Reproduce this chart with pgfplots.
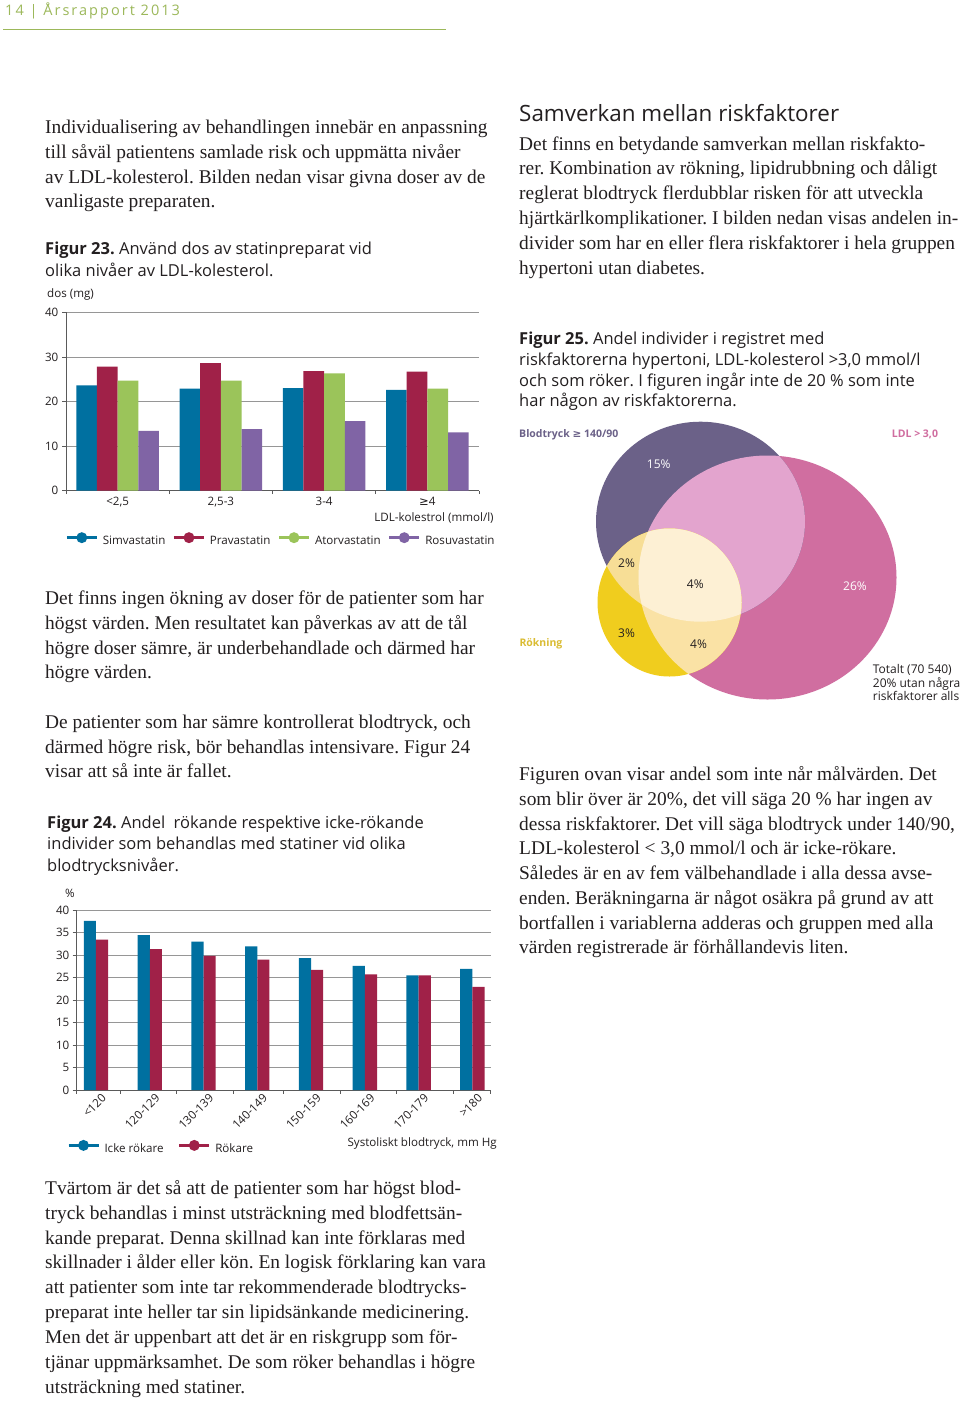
\documentclass[border=0pt]{standalone}
\usepackage{pgfplots}
\usepackage{pgfplotstable}
\pgfplotsset{compat=1.18}
\usepackage{fontspec}
\setmainfont{Liberation Serif}
\newfontfamily\sans{Open Sans}
\newfontfamily\sym{DejaVu Sans}
\newfontfamily\headfont[LetterSpace=14]{Open Sans}

\definecolor{simc}{RGB}{0,112,160}
\definecolor{pravc}{RGB}{160,33,72}
\definecolor{atorc}{RGB}{155,196,90}
\definecolor{rosuc}{RGB}{128,100,165}
\definecolor{gridc}{RGB}{150,150,150}
\definecolor{axisc}{RGB}{90,90,90}
\definecolor{txt}{RGB}{35,31,32}
\definecolor{headc}{RGB}{156,184,90}
\definecolor{vpurple}{RGB}{107,97,136}
\definecolor{vpink}{RGB}{208,110,160}
\definecolor{vlpink}{RGB}{227,164,206}
\definecolor{vyellow}{RGB}{240,205,30}
\definecolor{vlyellow}{RGB}{247,222,150}
\definecolor{vlyellowb}{RGB}{250,226,165}
\definecolor{vcream}{RGB}{253,240,212}
\definecolor{rokc}{RGB}{218,188,50}

\newcommand\bodyfont{\fontsize{19.4}{24}\selectfont}
\newcommand\capfont{\sans\fontsize{16.5}{20}\selectfont}
\newcommand\chartfont{\sans\fontsize{11.6}{13}\selectfont}
\newcommand\vennfont{\sans\fontsize{12}{13.5}\selectfont}
\newcommand\vennbold{\sans\bfseries\fontsize{10.5}{12}\selectfont}

\pgfplotstableread{
x sim prav ator rosu
0 23.6 27.8 24.7 13.4
1 22.9 28.6 24.7 13.8
2 23.0 26.8 26.3 15.6
3 22.6 26.7 22.9 13.1
}\dosdata

\pgfplotstableread{
x icke rok
0 37.6 33.4
1 34.4 31.3
2 33.0 29.8
3 31.9 29.0
4 29.3 26.7
5 27.6 25.7
6 25.5 25.5
7 26.9 22.9
}\rokdata

\pgfplotsset{lgd/.style={legend image code/.code={%
  \draw[#1, line width=3.2pt] (0pt,3.6pt) -- (30pt,3.6pt);
  \fill[#1] (15pt,3.6pt) circle (5.5pt);
  \path (36pt,0pt);}}}

\tikzset{
  body/.style={anchor=base west, inner sep=0pt, font=\bodyfont, text=txt},
  capt/.style={anchor=base west, inner sep=0pt, font=\capfont, text=txt},
}

\begin{document}
\frenchspacing
\begin{tikzpicture}[x=1pt,y=1pt]
\fill[white] (0,0) rectangle (960,-1405);
\path[use as bounding box] (0,0) rectangle (960,-1405);

% header
\node[anchor=base west, inner sep=0pt, font=\headfont\fontsize{14.5}{16}\selectfont, text=headc] at (5,-16) {14 | Årsrapport 2013};
\draw[headc, line width=0.8pt] (3,-29) -- (446,-29);

% left column top
\node[body] at (45,-133.3) {Individualisering av behandlingen innebär en anpassning};
\node[body] at (45,-158.3) {till såväl patientens samlade risk och uppmätta nivåer};
\node[body] at (45,-183.1) {av LDL-kolesterol. Bilden nedan visar givna doser av de};
\node[body] at (45,-207.8) {vanligaste preparaten.};
\node[capt] at (45,-254) {\bfseries Figur 23.\mdseries\ Använd dos av statinpreparat vid};
\node[capt] at (45,-276.7) {olika nivåer av LDL-kolesterol.};

% right column top
\node[anchor=base west, inner sep=0pt, font=\sans\fontsize{22.4}{26}\selectfont, text=txt] at (519,-121) {Samverkan mellan riskfaktorer};
\node[body] at (519,-150) {Det finns en betydande samverkan mellan riskfakto-};
\node[body] at (519,-174.8) {rer. Kombination av rökning, lipidrubbning och dåligt};
\node[body] at (519,-199.6) {reglerat blodtryck flerdubblar risken för att utveckla};
\node[body] at (519,-224.4) {hjärtkärlkomplikationer. I bilden nedan visas andelen in-};
\node[body] at (519,-249.2) {divider som har en eller flera riskfaktorer i hela gruppen};
\node[body] at (519,-274) {hypertoni utan diabetes.};
\node[capt] at (519,-344.3) {\bfseries Figur 25.\mdseries\ Andel individer i registret med};
\node[capt] at (519,-365) {riskfaktorerna hypertoni, LDL-kolesterol >3,0 mmol/l};
\node[capt] at (519,-386) {och som röker. I figuren ingår inte de 20 \% som inte};
\node[capt] at (519,-406.7) {har någon av riskfaktorerna.};

% left middle
\node[body] at (45,-604.3) {Det finns ingen ökning av doser för de patienter som har};
\node[body] at (45,-629.3) {högst värden. Men resultatet kan påverkas av att de tål};
\node[body] at (45,-654) {högre doser sämre, är underbehandlade och därmed har};
\node[body] at (45,-678.7) {högre värden.};
\node[body] at (45,-728.3) {De patienter som har sämre kontrollerat blodtryck, och};
\node[body] at (45,-753) {därmed högre risk, bör behandlas intensivare. Figur 24};
\node[body] at (45,-777.7) {visar att så inte är fallet.};
\node[capt] at (47,-828.3) {\bfseries Figur 24.\mdseries\ Andel\ \ rökande respektive icke-rökande};
\node[capt] at (47,-849.3) {individer som behandlas med statiner vid olika};
\node[capt] at (47,-871) {blodtrycksnivåer.};

% right bottom
\node[body] at (519,-780) {Figuren ovan visar andel som inte når målvärden. Det};
\node[body] at (519,-805) {som blir över är 20\%, det vill säga 20 \% har ingen av};
\node[body] at (519,-830) {dessa riskfaktorer. Det vill säga blodtryck under 140/90,};
\node[body] at (519,-854.5) {LDL-kolesterol < 3,0 mmol/l och är icke-rökare.};
\node[body] at (519,-879) {Således är en av fem välbehandlade i alla dessa avse-};
\node[body] at (519,-904) {enden. Beräkningarna är något osäkra på grund av att};
\node[body] at (519,-929) {bortfallen i variablerna adderas och gruppen med alla};
\node[body] at (519,-953.5) {värden registrerade är förhållandevis liten.};

% bottom left
\node[body] at (45,-1194) {Tvärtom är det så att de patienter som har högst blod-};
\node[body] at (45,-1219) {tryck behandlas i minst utsträckning med blodfettsän-};
\node[body] at (45,-1244) {kande preparat. Denna skillnad kan inte förklaras med};
\node[body] at (45,-1268.7) {skillnader i ålder eller kön. En logisk förklaring kan vara};
\node[body] at (45,-1293.7) {att patienter som inte tar rekommenderade blodtrycks-};
\node[body] at (45,-1318.3) {preparat inte heller tar sin lipidsänkande medicinering.};
\node[body] at (45,-1343.3) {Men det är uppenbart att det är en riskgrupp som för-};
\node[body] at (45,-1368.3) {tjänar uppmärksamhet. De som röker behandlas i högre};
\node[body] at (45,-1393.3) {utsträckning med statiner.};

% ---------------- Figure 23 ----------------
\begin{axis}[
  at={(66pt,-490.7pt)}, anchor=south west,
  scale only axis, width=413pt, height=178.4pt,
  xmin=-0.5, xmax=3.5, ymin=0, ymax=40,
  ybar=0pt, bar width=0.2,
  axis x line*=bottom, axis y line*=left,
  axis line style={axisc, line width=0.8pt, -},
  ytick={0,10,20,30,40},
  ymajorgrids, grid style={gridc, line width=0.7pt},
  xtick={-0.5,0.5,1.5,2.5,3.5}, xticklabel={\relax},
  extra x ticks={0,1,2,3},
  extra x tick labels={{<2,5},{2,5-3},{3-4},{{\sym ≥}4}},
  extra x tick style={major tick length=0pt, xticklabel style={yshift=-6pt}},
  tick style={axisc, line width=0.8pt},
  tick align=outside, major tick length=3.5pt,
  /pgf/number format/assume math mode=true,
  tick label style={font=\chartfont, text=txt},
  yticklabel style={inner sep=0pt, xshift=-4pt},
  xticklabel style={inner sep=0pt},
  xlabel={LDL-kolestrol (mmol/l)},
  xlabel style={at={(axis description cs:1.036,0)}, anchor=base east, yshift=-31pt, inner sep=0pt, font=\chartfont, text=txt},
  ylabel={dos (mg)},
  ylabel style={rotate=-90, at={(axis description cs:-0.046,1.084)}, anchor=base west, inner sep=0pt, font=\chartfont, text=txt},
  legend style={at={(axis description cs:-0.0024,-0.272)}, anchor=west, draw=none, fill=none, inner sep=0pt, font=\chartfont, text=txt, nodes={inner sep=0pt}, /tikz/every even column/.append style={column sep=7pt}},
  legend columns=4,
  clip=false,
]
\addplot[fill=simc, draw=none, lgd=simc] table[x=x,y=sim]{\dosdata};
\addplot[fill=pravc, draw=none, lgd=pravc] table[x=x,y=prav]{\dosdata};
\addplot[fill=atorc, draw=none, lgd=atorc] table[x=x,y=ator]{\dosdata};
\addplot[fill=rosuc, draw=none, lgd=rosuc] table[x=x,y=rosu]{\dosdata};
\legend{Simvastatin, Pravastatin, Atorvastatin, Rosuvastatin}
\end{axis}

% ---------------- Figure 24 ----------------
\begin{axis}[
  at={(76pt,-1090pt)}, anchor=south west,
  scale only axis, width=414.7pt, height=180pt,
  xmin=-0.372, xmax=7.342, ymin=0, ymax=40,
  ybar=0pt, bar width=0.227,
  axis x line*=bottom, axis y line*=left,
  axis line style={axisc, line width=0.8pt, -},
  ytick={0,5,10,15,20,25,30,35,40},
  ymajorgrids, grid style={gridc, line width=0.7pt},
  xtick={-0.372,0.46,1.5,2.55,3.48,4.54,5.59,6.64,7.342}, xticklabel={\relax},
  extra x ticks={0,1,2,3,4,5,6,7},
  extra x tick labels={{<120},{120-129},{130-139},{140-149},{150-159},{160-169},{170-179},{>180}},
  extra x tick style={major tick length=0pt, xticklabel style={xshift=8pt, yshift=-6pt, rotate=45, anchor=east}},
  tick style={axisc, line width=0.8pt},
  tick align=outside, major tick length=3.5pt,
  /pgf/number format/assume math mode=true,
  tick label style={font=\chartfont, text=txt},
  yticklabel style={inner sep=0pt, xshift=-3pt},
  xticklabel style={inner sep=0pt},
  xlabel={Systoliskt blodtryck, mm Hg},
  xlabel style={at={(axis description cs:1.0152,0)}, anchor=base east, yshift=-56pt, inner sep=0pt, font=\chartfont, text=txt},
  ylabel={\%},
  ylabel style={rotate=-90, at={(axis description cs:-0.0265,1.0722)}, anchor=base west, inner sep=0pt, font=\chartfont, text=txt},
  legend style={at={(axis description cs:-0.0224,-0.3167)}, anchor=west, draw=none, fill=none, inner sep=0pt, font=\chartfont, text=txt, nodes={inner sep=0pt}, /tikz/every even column/.append style={column sep=14pt}},
  legend columns=2,
  clip=false,
]
\addplot[fill=simc, draw=none, lgd=simc] table[x=x,y=icke]{\rokdata};
\addplot[fill=pravc, draw=none, lgd=pravc] table[x=x,y=rok]{\rokdata};
\legend{Icke rökare, Rökare}
\end{axis}

% ---------------- Figure 25 (Venn) ----------------
\begin{axis}[
  at={(510pt,-720pt)}, anchor=south west,
  scale only axis, width=450pt, height=300pt,
  xmin=510, xmax=960, ymin=420, ymax=720, y dir=reverse,
  axis lines=none, clip=false,
]
\fill[vpink] (axis cs:767.5,577.5) ellipse [x radius=129, y radius=122];
\fill[vpurple] (axis cs:700.5,521.7) ellipse [x radius=104.5, y radius=100];
\begin{scope}
\clip (axis cs:700.5,521.7) ellipse [x radius=104.5, y radius=100];
\fill[vlpink] (axis cs:767.5,577.5) ellipse [x radius=129, y radius=122];
\end{scope}
\fill[vyellow] (axis cs:669.5,602.5) ellipse [x radius=72, y radius=74];
\begin{scope}
\clip (axis cs:669.5,602.5) ellipse [x radius=72, y radius=74];
\fill[vlyellow] (axis cs:700.5,521.7) ellipse [x radius=104.5, y radius=100];
\fill[vlyellowb] (axis cs:767.5,577.5) ellipse [x radius=129, y radius=122];
\clip (axis cs:700.5,521.7) ellipse [x radius=104.5, y radius=100];
\fill[vcream] (axis cs:767.5,577.5) ellipse [x radius=129, y radius=122];
\end{scope}
\node[anchor=base west, inner sep=0pt, font=\vennbold, text=vpurple] at (axis cs:519,437.3) {Blodtryck {\sym ≥} 140/90};
\node[anchor=base west, inner sep=0pt, font=\vennbold, text=vpink] at (axis cs:891.7,437.3) {LDL > 3,0};
\node[anchor=base west, inner sep=0pt, font=\vennbold, text=rokc] at (axis cs:519.3,646.7) {Rökning};
\node[anchor=base west, inner sep=0pt, font=\vennfont, text=white] at (axis cs:646.7,468.3) {15\%};
\node[anchor=base west, inner sep=0pt, font=\vennfont, text=white] at (axis cs:843,590) {26\%};
\node[anchor=base west, inner sep=0pt, font=\vennfont, text=txt] at (axis cs:618,567.7) {2\%};
\node[anchor=base west, inner sep=0pt, font=\vennfont, text=txt] at (axis cs:686.7,588.3) {4\%};
\node[anchor=base west, inner sep=0pt, font=\vennfont, text=txt] at (axis cs:618,637.7) {3\%};
\node[anchor=base west, inner sep=0pt, font=\vennfont, text=txt] at (axis cs:690,648.7) {4\%};
\node[anchor=base west, inner sep=0pt, font=\vennfont, text=txt] at (axis cs:872.7,673.3) {Totalt (70 540)};
\node[anchor=base west, inner sep=0pt, font=\vennfont, text=txt] at (axis cs:872.7,687) {20\% utan några};
\node[anchor=base west, inner sep=0pt, font=\vennfont, text=txt] at (axis cs:872.7,700.3) {riskfaktorer alls};
\end{axis}
\end{tikzpicture}
\end{document}
